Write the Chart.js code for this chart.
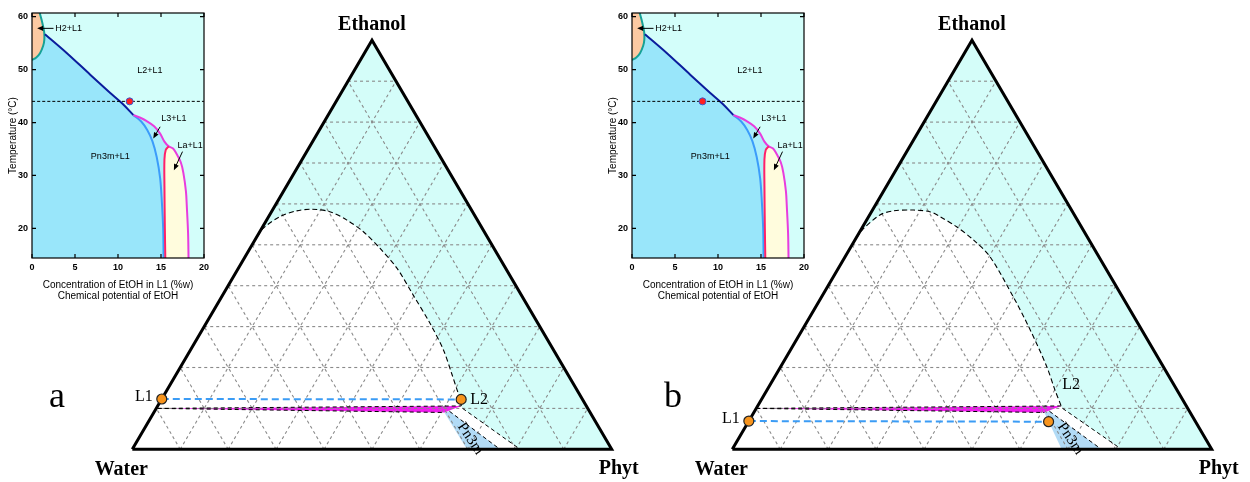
<!DOCTYPE html>
<html>
<head>
<meta charset="utf-8">
<title>Phyt / Water / Ethanol phase diagrams</title>
<script src="https://cdn.jsdelivr.net/npm/chart.js"></script>
<style>
  body { margin: 0; background: #fff; }
  .stage { position: relative; width: 1250px; height: 482px; overflow: hidden; }
  .stage canvas { position: absolute; top: 0; }
</style>
</head>
<body>
<div class="stage">
  <canvas id="ternA" width="650" height="482" style="left:0"></canvas>
  <canvas id="ternB" width="650" height="482" style="left:600px"></canvas>
  <canvas id="insetA" width="215" height="305" style="left:0"></canvas>
  <canvas id="insetB" width="215" height="305" style="left:600px"></canvas>
</div>
<script>
// ---------- inset: temperature vs EtOH in L1 ([EtOH %w, T °C]) ----------
const insetXTicks = [0, 5, 10, 15, 20];
const insetYTicks = [20, 30, 40, 50, 60];
const insetXRange = [0, 20];
const insetYRange = [14.4, 60.7];
const h2Boundary = [[0, 51.8], [0.5, 52.3], [0.93, 53.1], [1.3, 54.5], [1.43, 55.6], [1.42, 57.0], [1.3, 58.1], [1.1, 59.5], [0.9, 60.7]];
const l2Boundary = [[1.5, 56.7], [4, 53.2], [6.8, 49.0], [9.1, 45.6], [10.5, 43.6], [11.8, 41.4]];
const pn3mBoundary = [[11.8, 41.4], [12.7, 40.2], [13.4, 38.6], [14.0, 36.5], [14.5, 33.5], [14.9, 29.5], [15.1, 25.0], [15.25, 20.0], [15.3, 14.4]];
const l3Boundary = [[11.8, 41.4], [12.6, 40.9], [13.3, 40.3], [14.2, 39.3], [14.9, 37.9], [15.4, 36.4], [15.9, 35.5]];
const laLeft = [[15.9, 35.5], [15.55, 34.8], [15.4, 33.0], [15.4, 28.0], [15.45, 20.0], [15.5, 14.4]];
const laRight = [[15.9, 35.5], [16.4, 35.1], [16.8, 34.1], [17.3, 32.5], [17.6, 30.5], [17.9, 27.0], [18.0, 24.2], [18.15, 19.0], [18.2, 14.4]];
const tempLine = 44;
const dotA = [11.35, 44];
const dotB = [8.2, 44];
const insetNotes = [
  { text: 'H2+L1', at: [2.7, 57.8], align: 'left', arrow: [[2.5, 57.8], [0.6, 57.8]] },
  { text: 'L2+L1', at: [13.7, 49.9] },
  { text: 'L3+L1', at: [16.5, 40.8], arrow: [[14.9, 39.2], [14.1, 37.0]] },
  { text: 'La+L1', at: [18.4, 35.6], arrow: [[17.5, 34.5], [16.5, 31.0]] },
  { text: 'Pn3m+L1', at: [9.1, 33.5] }
];

// ---------- ternary: [Phyt %, Ethanol %], Water is the rest ----------
const ternTicks = [10, 20, 30, 40, 50, 60, 70, 80, 90];
const domeA = [[0, 50.4], [0.3, 54.0], [2.35, 56.9], [5.15, 58.3], [8.05, 58.7], [12.15, 58.1], [16.65, 56.1], [21.6, 53.2], [27.15, 49.1], [33.05, 44.3], [39.75, 37.7], [46.7, 30.8], [52.75, 24.3], [57.3, 18.6], [61.15, 13.7], [62.5, 12.2]];
const domeB = [[0, 50.0], [0.3, 53.6], [2.15, 57.3], [4.45, 58.3], [8.5, 58.5], [12.15, 58.1], [14.85, 56.9], [19.6, 54.4], [24.7, 51.2], [30.2, 47.1], [39.95, 37.3], [47.45, 29.3], [55.5, 20.2], [60.05, 14.5], [63.3, 10.6]];
const sliverA = [[0.3, 10.0], [63.3, 10.6], [60.6, 9.0]];
const sliverB = [[0, 10.0], [63.3, 10.6], [60.6, 9.0]];
const pn3mA = [[60.6, 9.0], [61.5, 9.3], [76.7, 0], [69.8, 0]];
const pn3mB = [[60.6, 9.0], [61.5, 9.3], [77.0, 0], [68.7, 0]];
const bandEdgeA = [[63.9, 10.0], [80.9, 0]];
const bandEdgeB = [[63.9, 10.0], [81.2, 0]];
const tieA = [[0, 12.3], [62.5, 12.2]];   // L1, L2
const tieB = [[0, 6.9], [62.6, 6.75]];

Chart.defaults.font.family = '"Liberation Sans", Arial, sans-serif';
Chart.defaults.color = '#000';

const xy = pts => pts.map(([x, y]) => ({ x, y }));
const tern = pts => pts.map(([p, e]) => ({ x: p + e / 2, y: e }));

function arrowTo(ctx, x1, y1, x2, y2) {
  const a = Math.atan2(y2 - y1, x2 - x1);
  ctx.beginPath();
  ctx.moveTo(x1, y1);
  ctx.lineTo(x2 - 4 * Math.cos(a), y2 - 4 * Math.sin(a));
  ctx.stroke();
  ctx.beginPath();
  ctx.moveTo(x2, y2);
  ctx.lineTo(x2 - 6 * Math.cos(a) + 2.6 * Math.sin(a), y2 - 6 * Math.sin(a) - 2.6 * Math.cos(a));
  ctx.lineTo(x2 - 6 * Math.cos(a) - 2.6 * Math.sin(a), y2 - 6 * Math.sin(a) + 2.6 * Math.cos(a));
  ctx.closePath();
  ctx.fill();
}

const insetFrame = {
  id: 'insetFrame',
  beforeDatasetsDraw(chart) {
    const { ctx, chartArea: a } = chart;
    ctx.save();
    ctx.fillStyle = '#d3fefa';
    ctx.fillRect(a.left, a.top, a.right - a.left, a.bottom - a.top);
    ctx.restore();
  },
  afterDatasetsDraw(chart) {
    const { ctx, chartArea: a, scales: { x, y } } = chart;
    ctx.save();
    ctx.strokeStyle = '#000';
    ctx.lineWidth = 1.2;
    ctx.strokeRect(a.left, a.top, a.right - a.left, a.bottom - a.top);
    ctx.beginPath();
    x.ticks.forEach(t => {
      const px = x.getPixelForValue(t.value);
      ctx.moveTo(px, a.bottom); ctx.lineTo(px, a.bottom - 4);
      ctx.moveTo(px, a.top); ctx.lineTo(px, a.top + 4);
    });
    y.ticks.forEach(t => {
      const py = y.getPixelForValue(t.value);
      ctx.moveTo(a.left, py); ctx.lineTo(a.left + 4, py);
      ctx.moveTo(a.right, py); ctx.lineTo(a.right - 4, py);
    });
    ctx.stroke();
    ctx.font = '9px "Liberation Sans"';
    ctx.fillStyle = '#000';
    ctx.lineWidth = 1;
    ctx.textBaseline = 'middle';
    insetNotes.forEach(n => {
      ctx.textAlign = n.align || 'center';
      ctx.fillText(n.text, x.getPixelForValue(n.at[0]), y.getPixelForValue(n.at[1]));
      if (n.arrow) {
        const [[ax, ay], [bx, by]] = n.arrow;
        arrowTo(ctx, x.getPixelForValue(ax), y.getPixelForValue(ay), x.getPixelForValue(bx), y.getPixelForValue(by));
      }
    });
    ctx.restore();
  }
};

function insetChart(canvasId, dot) {
  const area = (pts, color) => ({ data: xy(pts), backgroundColor: color, borderWidth: 0, fill: 'shape', tension: 0 });
  const curve = (pts, color, width, dash) => ({ data: xy(pts), borderColor: color, borderWidth: width, borderDash: dash || [], fill: false, tension: 0.35 });
  const [y0, y1] = insetYRange;
  const layers = [
    area([[0, y0], ...h2Boundary.filter(p => p[1] <= l2Boundary[0][1]), ...l2Boundary, ...pn3mBoundary.slice(1)], '#99e6fa'),
    area([...h2Boundary, [0, y1]], '#fcc9a2'),
    area([...l3Boundary, ...laLeft.slice(1), ...pn3mBoundary.slice().reverse()], '#abeefa'),
    area([...laLeft.slice().reverse(), ...laRight.slice(1)], '#fffcdd'),
    curve(h2Boundary, '#16a196', 2),
    curve(l2Boundary, '#0b1c9c', 2),
    curve(pn3mBoundary, '#3b9cfa', 2),
    curve([...l3Boundary, ...laRight.slice(1)], '#e83ddd', 2),
    curve(laLeft, '#ff2169', 2),
    curve([[insetXRange[0], tempLine], [insetXRange[1], tempLine]], '#000', 1, [3, 2]),
    { data: xy([dot]), showLine: false, pointRadius: 3.5, pointBackgroundColor: '#ff1f1f', pointBorderColor: '#3d5bd0', pointBorderWidth: 1 }
  ];
  const tickFont = { family: '"Liberation Sans"', size: 9, weight: 'bold' };
  new Chart(document.getElementById(canvasId), {
    type: 'line',
    data: { datasets: layers.reverse() },
    options: {
      responsive: false, animation: false, events: [], devicePixelRatio: 1,
      layout: { padding: { left: 0, right: 11, top: 13, bottom: 0 } },
      elements: { point: { radius: 0 } },
      plugins: { legend: { display: false }, tooltip: { enabled: false } },
      scales: {
        x: {
          type: 'linear', min: insetXRange[0], max: insetXRange[1],
          afterBuildTicks: s => { s.ticks = insetXTicks.map(v => ({ value: v })); },
          afterFit: s => { s.height = 47; },
          grid: { display: false, drawTicks: false }, border: { display: false },
          ticks: { font: tickFont, color: '#000', padding: 4, maxRotation: 0, autoSkip: false },
          title: { display: true, text: ['Concentration of EtOH in L1 (%w)', 'Chemical potential of EtOH'], color: '#000', font: { size: 10, lineHeight: 1.15 }, padding: { top: 0, bottom: 3 } }
        },
        y: {
          type: 'linear', min: insetYRange[0], max: insetYRange[1],
          afterBuildTicks: s => { s.ticks = insetYTicks.map(v => ({ value: v })); },
          afterFit: s => { s.width = 32; },
          grid: { display: false, drawTicks: false }, border: { display: false },
          ticks: { font: tickFont, color: '#000', padding: 4, autoSkip: false },
          title: { display: true, text: 'Temperature (°C)', color: '#000', font: { size: 10 }, padding: { top: 7, bottom: 0 } }
        }
      }
    },
    plugins: [insetFrame]
  });
}

const ternText = {
  id: 'ternText',
  afterDatasetsDraw(chart, args, opts) {
    const { ctx, scales: { x, y } } = chart;
    const pt = (p, e) => ({ x: x.getPixelForValue(p + e / 2), y: y.getPixelForValue(e) });
    ctx.save();
    ctx.fillStyle = '#000';
    ctx.textBaseline = 'middle';
    ctx.textAlign = 'center';
    ctx.font = 'bold 20px "Liberation Serif"';
    let v = pt(0, 100); ctx.fillText('Ethanol', v.x, v.y - 15);
    v = pt(0, 0); ctx.fillText('Water', v.x - 11, v.y + 21);
    v = pt(100, 0); ctx.fillText('Phyt', v.x + 7, v.y + 20);

    ctx.font = '36px "Liberation Serif"';
    ctx.textBaseline = 'alphabetic';
    ctx.fillText(opts.letter, opts.letterX, 407);

    ctx.textBaseline = 'middle';
    ctx.font = '16px "Liberation Serif"';
    const l1 = pt(...opts.tie[0]);
    ctx.textAlign = 'right';
    ctx.fillText('L1', l1.x - 9, l1.y - 2);
    const l2 = pt(...opts.l2Anchor);
    ctx.textAlign = 'left';
    ctx.fillText('L2', l2.x + opts.l2Offset[0], l2.y + opts.l2Offset[1]);

    const w = pt(69.2, 2.6);
    ctx.translate(w.x, w.y);
    ctx.rotate(56 * Math.PI / 180);
    ctx.textAlign = 'center';
    ctx.font = '15px "Liberation Serif"';
    ctx.fillText('Pn3m', 0, 0);
    ctx.restore();
  }
};

function ternChart(canvasId, d) {
  const area = (pts, color) => ({ data: tern(pts), backgroundColor: color, borderWidth: 0, fill: 'shape', tension: 0 });
  const stroke = (pts, color, width, dash, tension) => ({ data: tern(pts), borderColor: color, borderWidth: width, borderDash: dash || [], fill: false, tension: tension || 0 });
  const frame = [[0, 0], [100, 0], [0, 100], [0, 0]];
  const layers = [
    area(frame, '#d4fdf9'),
    area([[0, 0], ...d.dome, ...d.sliver.slice(1, 2), d.bandEdge[0], d.bandEdge[1]], '#ffffff'),
    area(d.pn3m, '#b2dbf6'),
    area(d.sliver, '#f21cf0')
  ];
  ternTicks.forEach(t => {
    layers.push(stroke([[0, t], [100 - t, t]], '#8a8a8a', 1.1, [3, 3]));
    layers.push(stroke([[t, 0], [t, 100 - t]], '#8a8a8a', 1.1, [3, 3]));
    layers.push(stroke([[100 - t, 0], [0, 100 - t]], '#8a8a8a', 1.1, [3, 3]));
  });
  layers.push(
    stroke(d.tie, '#3b9cf5', 2, [7, 4]),
    stroke([...d.dome, d.sliver[1]], '#000', 1.1, [5, 3], 0.3),
    stroke([d.sliver[0], d.sliver[1]], '#000', 1, [4, 3]),
    stroke([d.sliver[0], d.sliver[2]], '#000', 1, [4, 3]),
    stroke([d.pn3m[1], d.pn3m[2]], '#000', 1, [4, 3]),
    stroke(d.bandEdge, '#000', 1, [4, 3]),
    Object.assign(stroke(frame, '#000', 3), { borderJoinStyle: 'miter' }),
    { data: tern(d.tie), showLine: false, pointRadius: 5, pointBackgroundColor: '#f7941d', pointBorderColor: '#222', pointBorderWidth: 1.2 }
  );
  new Chart(document.getElementById(canvasId), {
    type: 'line',
    data: { datasets: layers.reverse() },
    options: {
      responsive: false, animation: false, events: [], devicePixelRatio: 1,
      layout: { padding: { left: 132.3, right: 650 - 611.7, top: 40.3, bottom: 482 - 449.3 } },
      elements: { point: { radius: 0 } },
      datasets: { line: { clip: false } },
      plugins: { legend: { display: false }, tooltip: { enabled: false }, ternText: d.text },
      scales: {
        x: { type: 'linear', min: 0, max: 100, display: false },
        y: { type: 'linear', min: 0, max: 100, display: false }
      }
    },
    plugins: [ternText]
  });
}

ternChart('ternA', {
  dome: domeA, sliver: sliverA, pn3m: pn3mA, bandEdge: bandEdgeA, tie: tieA,
  text: { letter: 'a', letterX: 57, tie: tieA, l2Anchor: tieA[1], l2Offset: [9, 0] }
});
ternChart('ternB', {
  dome: domeB, sliver: sliverB, pn3m: pn3mB, bandEdge: bandEdgeB, tie: tieB,
  text: { letter: 'b', letterX: 73, tie: tieB, l2Anchor: sliverB[1], l2Offset: [1, -21] }
});
insetChart('insetA', dotA);
insetChart('insetB', dotB);
</script>
</body>
</html>
